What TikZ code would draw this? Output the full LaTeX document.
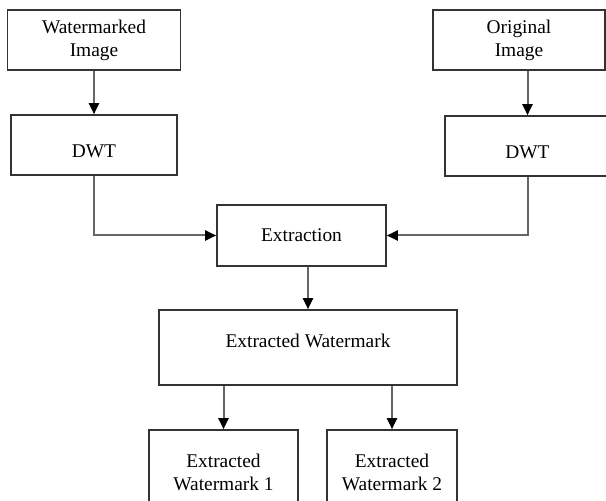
\documentclass[tikz,border=0pt]{standalone}
\usepackage{fontspec}
\setmainfont{Liberation Serif}
\usetikzlibrary{arrows.meta}
\begin{document}
\begin{tikzpicture}[x=0.5pt,y=-0.5pt,
    blk/.style={draw=black!80,line width=0.8pt,fill=white,align=center,inner sep=0pt,
        font=\fontsize{9.7}{11.5}\selectfont},
    flow/.style={draw=black!60,line width=1pt,-{Triangle[length=5.5pt,width=5pt,color=black]}}]
    \useasboundingbox (0,0) rectangle (606,501);
    % input images
    \node[blk,minimum width=86.5pt,minimum height=30pt] (wimg) at (94,40) {Watermarked\\Image};
    \node[blk,minimum width=86pt,minimum height=30pt] (orig) at (519,40) {Original\\Image};
    \node[blk,minimum width=83pt,minimum height=30pt,text height=12.5pt] (dwtl) at (94,145) {DWT};
    \node[blk,minimum width=82.5pt,minimum height=30pt,text height=12.5pt] (dwtr) at (527.5,146) {DWT};
    % extraction
    \node[blk,minimum width=84.5pt,minimum height=30.5pt] (extr) at (301.5,235.5) {Extraction};
    \node[blk,minimum width=149pt,minimum height=37.5pt,text depth=6.5pt] (ewm) at (308,347.5) {Extracted Watermark};
    \node[blk,minimum width=74.5pt,minimum height=42pt] (ew1) at (223.5,472) {Extracted\\Watermark 1};
    \node[blk,minimum width=65pt,minimum height=42pt] (ew2) at (392,472) {Extracted\\Watermark 2};
    % connectors
    \draw[flow] (dwtl.north |- wimg.south) -- (dwtl.north);
    \draw[flow] (dwtr.north |- orig.south) -- (dwtr.north);
    \draw[flow] (dwtl.south) |- (extr.west);
    \draw[flow] (dwtr.south) |- (extr.east);
    \draw[flow] (ewm.north |- extr.south) -- (ewm.north);
    \draw[flow] (ew1.north |- ewm.south) -- (ew1.north);
    \draw[flow] (ew2.north |- ewm.south) -- (ew2.north);
\end{tikzpicture}
\end{document}
